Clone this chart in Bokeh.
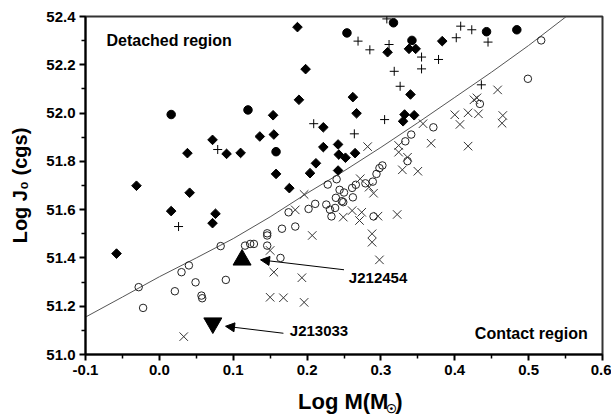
import numpy as np
from bokeh.plotting import figure
from bokeh.layouts import column
from bokeh.models import FixedTicker, PrintfTickFormatter, Label, Arrow, NormalHead, Range1d
from bokeh.embed import file_html
from bokeh.resources import INLINE

# ---- data ----
diamond_x = [-0.058, -0.031, 0.016, 0.038, 0.041, 0.072, 0.072, 0.076, 0.091, 0.110, 0.136, 0.155,
             0.154, 0.158, 0.176, 0.187, 0.198, 0.189, 0.204, 0.212, 0.222, 0.222, 0.242, 0.243,
             0.252, 0.265, 0.242, 0.262, 0.267, 0.309, 0.338, 0.347, 0.383, 0.340, 0.332, 0.345, 0.330]
diamond_y = [51.418, 51.699, 51.594, 51.834, 51.670, 51.889, 51.544, 51.583, 51.831, 51.835, 51.903, 51.911,
             51.991, 51.748, 51.689, 52.356, 52.182, 52.055, 51.751, 51.792, 51.941, 51.859, 51.870, 51.828,
             51.815, 51.834, 51.762, 52.066, 51.999, 52.252, 52.266, 52.266, 52.298, 52.077, 51.994, 51.991, 51.966]

dot_x = [0.016, 0.120, 0.158, 0.254, 0.317, 0.342, 0.443, 0.484]
dot_y = [51.994, 52.013, 51.840, 52.332, 52.374, 52.301, 52.337, 52.345]

plus_x = [0.079, 0.209, 0.026, 0.308, 0.269, 0.285, 0.311, 0.355, 0.378, 0.355, 0.318, 0.326,
          0.408, 0.423, 0.402, 0.445, 0.436, 0.305, 0.264]
plus_y = [51.849, 51.956, 51.530, 52.390, 52.298, 52.262, 52.284, 52.232, 52.222, 52.183, 52.173, 52.111,
          52.360, 52.345, 52.312, 52.294, 52.117, 51.973, 51.914]

ring_x = [-0.028, -0.022, 0.021, 0.030, 0.040, 0.049, 0.057, 0.058, 0.090, 0.083, 0.116, 0.123, 0.128,
          0.146, 0.146, 0.146, 0.164, 0.166, 0.175, 0.184, 0.202, 0.211,
          0.371, 0.341, 0.333, 0.336, 0.302, 0.298, 0.294, 0.289, 0.279, 0.266, 0.261, 0.240, 0.228,
          0.244, 0.250, 0.239, 0.247, 0.262, 0.226, 0.231, 0.238, 0.249, 0.233, 0.290, 0.434, 0.517, 0.499]
ring_y = [51.279, 51.193, 51.262, 51.341, 51.369, 51.299, 51.244, 51.233, 51.309, 51.449, 51.451, 51.458, 51.458,
          51.502, 51.493, 51.451, 51.400, 51.521, 51.589, 51.530, 51.603, 51.624,
          51.941, 51.911, 51.883, 51.801, 51.783, 51.772, 51.748, 51.716, 51.709, 51.703, 51.690, 51.726, 51.704,
          51.682, 51.671, 51.649, 51.635, 51.651, 51.621, 51.600, 51.607, 51.631, 51.572, 51.572, 52.038, 52.301, 52.142]

cross_x = [0.033, 0.150, 0.155, 0.193, 0.150, 0.168, 0.196, 0.207, 0.184, 0.322, 0.288, 0.288, 0.298,
           0.249, 0.261, 0.271, 0.274, 0.196, 0.272, 0.284, 0.290, 0.296, 0.282, 0.324, 0.324, 0.336,
           0.329, 0.350, 0.357, 0.368, 0.418, 0.400, 0.407, 0.418, 0.432, 0.426, 0.430, 0.458, 0.465, 0.464]
cross_y = [51.074, 51.431, 51.341, 51.318, 51.237, 51.235, 51.216, 51.493, 51.599, 51.580, 51.500, 51.465, 51.392,
           51.569, 51.596, 51.555, 51.589, 51.663, 51.728, 51.693, 51.668, 51.573, 51.861, 51.866, 51.838, 51.817,
           51.765, 51.759, 51.956, 51.875, 51.863, 51.993, 51.953, 52.001, 51.997, 52.055, 52.063, 52.096, 51.990, 51.958]

curve_x = [-0.1, -0.05, 0.0, 0.05, 0.1, 0.15, 0.2, 0.25, 0.3, 0.35, 0.4, 0.45, 0.5, 0.551]
curve_y = [51.155, 51.238, 51.322, 51.400, 51.480, 51.570, 51.668, 51.760, 51.858, 51.960, 52.065, 52.170, 52.280, 52.400]

star1_name, star1_x, star1_y = "J212454", 0.112, 51.392
star2_name, star2_x, star2_y = "J213033", 0.0724, 51.130

x_ticks = [-0.1, 0.0, 0.1, 0.2, 0.3, 0.4, 0.5, 0.6]
y_ticks = [51.0, 51.2, 51.4, 51.6, 51.8, 52.0, 52.2, 52.4]

FONT = "Liberation Sans"

p = figure(width=611, height=386, x_range=Range1d(-0.1, 0.6), y_range=Range1d(51.0, 52.4),
           output_backend="svg", toolbar_location=None,
           min_border_left=85, min_border_right=9, min_border_top=16, min_border_bottom=32)
p.background_fill_color = "white"
p.border_fill_color = "white"
p.xgrid.visible = False
p.ygrid.visible = False
p.outline_line_color = "#333333"
p.outline_line_width = 2

for ax, ticks, minors in ((p.xaxis[0], x_ticks, [round(t + 0.05, 3) for t in x_ticks[:-1]]),
                          (p.yaxis[0], y_ticks, [round(t + 0.1, 3) for t in y_ticks[:-1]])):
    ax.ticker = FixedTicker(ticks=ticks, minor_ticks=minors)
    ax.formatter = PrintfTickFormatter(format="%.1f")
    ax.major_label_text_font = FONT
    ax.major_label_text_font_style = "bold"
    ax.major_label_text_font_size = "15px"
    ax.major_label_text_color = "black"
    ax.axis_line_width = 2
    ax.axis_line_color = "black"
    ax.major_tick_line_width = 2
    ax.major_tick_line_color = "black"
    ax.minor_tick_line_width = 1.5
    ax.minor_tick_line_color = "black"
    ax.major_tick_out = 6
    ax.major_tick_in = 0
    ax.minor_tick_out = 4
    ax.minor_tick_in = 0
    ax.major_label_standoff = 4

p.yaxis[0].axis_label = "Log J\u2080 (cgs)"
p.yaxis[0].axis_label_text_font = FONT
p.yaxis[0].axis_label_text_font_style = "bold"
p.yaxis[0].axis_label_text_font_size = "20px"
p.yaxis[0].axis_label_text_color = "black"
p.yaxis[0].axis_label_standoff = 12

# curve
p.line(curve_x, curve_y, line_color="#555555", line_width=1)

# markers
p.scatter(diamond_x, diamond_y, marker="square", angle=np.pi / 4, size=6.8,
          fill_color="black", line_color="black")
p.scatter(dot_x, dot_y, marker="circle", size=8.5, fill_color="black", line_color="black")
p.scatter(plus_x, plus_y, marker="cross", size=9, line_color="black", line_width=1)
p.scatter(ring_x, ring_y, marker="circle", size=7.5, fill_color=None, line_color="#222222", line_width=1)
p.scatter(cross_x, cross_y, marker="x", size=12, line_color="#333333", line_width=1)
p.scatter([star1_x], [star1_y], marker="triangle", size=18, fill_color="black", line_color="black")
p.scatter([star2_x], [star2_y], marker="inverted_triangle", size=18, fill_color="black", line_color="black")

# arrows + labels
p.add_layout(Arrow(end=NormalHead(size=9, fill_color="black", line_color="black"),
                   x_start=0.250, y_start=51.351, x_end=0.137, y_end=51.392, line_width=1))
p.add_layout(Arrow(end=NormalHead(size=9, fill_color="black", line_color="black"),
                   x_start=0.168, y_start=51.088, x_end=0.0896, y_end=51.117, line_width=1))

def lab(fig, x, y, t, size="15px", align="left", baseline="middle"):
    fig.add_layout(Label(x=x, y=y, text=t, text_font=FONT, text_font_style="bold",
                         text_font_size=size, text_align=align, text_baseline=baseline,
                         text_color="black"))

lab(p, 0.2566, 51.320, star1_name)
lab(p, 0.1766, 51.100, star2_name)
lab(p, -0.0716, 52.30, "Detached region", size="16px")
lab(p, 0.580, 51.088, "Contact region", size="16px", align="right")

# x-axis title strip (pixel-based coordinates), with the subscript sun symbol
t = figure(width=611, height=31, x_range=Range1d(0, 611), y_range=Range1d(31, 0),
           output_backend="svg", toolbar_location=None, x_axis_type=None, y_axis_type=None,
           min_border_left=0, min_border_right=0, min_border_top=0, min_border_bottom=0)
t.outline_line_color = None
t.xgrid.visible = False
t.ygrid.visible = False
t.background_fill_color = "white"
t.border_fill_color = "white"
lab(t, 358, 15, "Log M(M", size="22px", align="right")
lab(t, 362, 22, "\u2609", size="12px", align="center")
lab(t, 366, 15, ")", size="22px", align="left")

layout = column(p, t, spacing=0)
html = file_html(layout, INLINE)
open("out.html", "w").write(html)
